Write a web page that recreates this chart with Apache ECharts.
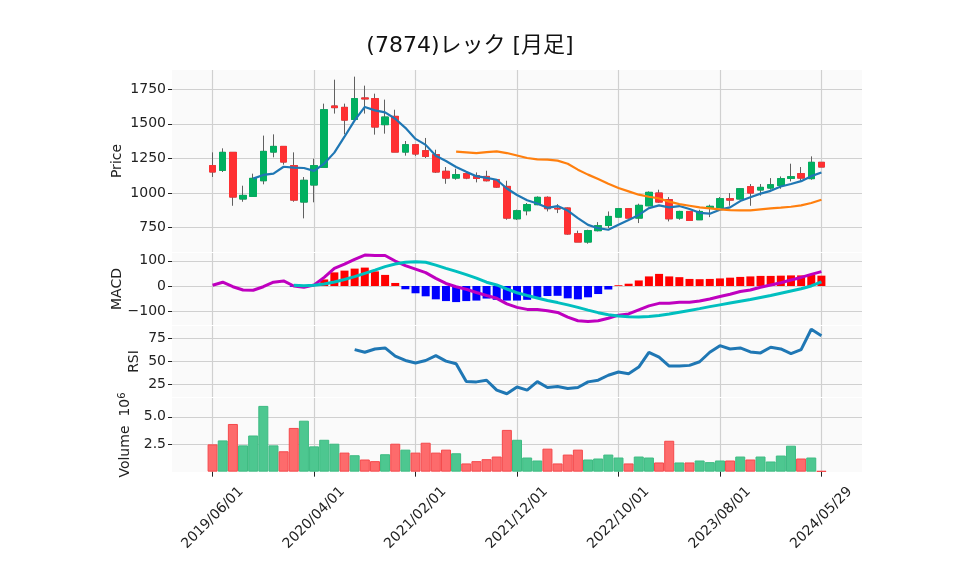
<!DOCTYPE html>
<html><head><meta charset="utf-8">
<script src="https://cdn.jsdelivr.net/npm/echarts@6/dist/echarts.min.js"></script>
<style>html,body{margin:0;padding:0;background:#fff}#c{width:958px;height:575px}</style>
</head><body><div id="c"></div>
<script>
const titleText = '(7874)レック [月足]';
const dates = ['2019/06/01','2019/07/01','2019/08/01','2019/09/01','2019/10/01','2019/11/01','2019/12/01',
'2020/01/01','2020/02/01','2020/03/01','2020/04/01','2020/05/01','2020/06/01','2020/07/01','2020/08/01','2020/09/01','2020/10/01','2020/11/01','2020/12/01',
'2021/01/01','2021/02/01','2021/03/01','2021/04/01','2021/05/01','2021/06/01','2021/07/01','2021/08/01','2021/09/01','2021/10/01','2021/11/01','2021/12/01',
'2022/01/01','2022/02/01','2022/03/01','2022/04/01','2022/05/01','2022/06/01','2022/07/01','2022/08/01','2022/09/01','2022/10/01','2022/11/01','2022/12/01',
'2023/01/01','2023/02/01','2023/03/01','2023/04/01','2023/05/01','2023/06/01','2023/07/01','2023/08/01','2023/09/01','2023/10/01','2023/11/01','2023/12/01',
'2024/01/01','2024/02/01','2024/03/01','2024/04/01','2024/05/01','2024/05/29'];
const openP  = [1198,1164,1294,957,976,1089,1296,1337,1198,935,1058,1186,1629,1619,1532,1687,1682,1494,1554,1296,1349,1306,1277,1157,1108,1140,1125,1120,1096,1048,814,872,916,969,890,892,706,646,728,766,826,887,819,908,1000,952,819,867,807,892,896,959,957,1046,1022,1036,1055,1106,1140,1104,1222];
const highP  = [1294,1323,1294,1053,1140,1415,1424,1337,1294,1116,1248,1646,1819,1646,1841,1776,1718,1675,1602,1376,1352,1398,1313,1188,1176,1145,1149,1161,1100,1089,880,928,976,976,920,895,728,735,790,867,890,890,923,1012,1024,971,872,870,879,916,971,1000,1035,1065,1065,1108,1120,1212,1188,1265,1222];
const lowP   = [1116,1152,908,937,976,1063,1258,1205,937,817,933,1186,1574,1424,1528,1574,1422,1429,1296,1270,1268,1253,1145,1067,1096,1100,1077,1084,1038,807,805,839,912,867,855,699,646,634,723,747,822,815,783,904,930,795,807,798,805,826,892,908,955,908,981,1024,1031,1084,1084,1096,1188];
const closeP = [1152,1294,971,983,1106,1301,1337,1224,949,1092,1198,1602,1617,1527,1682,1680,1477,1549,1296,1349,1282,1265,1152,1108,1133,1108,1105,1089,1043,819,872,916,969,887,885,704,646,728,764,831,887,819,911,1005,935,814,867,802,867,904,959,949,1031,1000,1041,1060,1104,1118,1108,1222,1188];
const ma5 = [null,null,null,null,1104,1131,1140,1190,1183,1181,1160,1213,1292,1407,1525,1622,1597,1583,1537,1471,1391,1348,1269,1231,1188,1153,1122,1109,1096,1033,986,948,924,893,906,873,819,770,746,735,771,806,842,891,911,897,906,885,857,851,880,896,942,969,996,1016,1047,1065,1086,1122,1148];
const ma25 = [null,null,null,null,null,null,null,null,null,null,null,null,null,null,null,null,null,null,null,null,null,null,null,null,
1299,1294,1289,1296,1301,1289,1271,1253,1243,1241,1234,1212,1169,1133,1101,1067,1036,1012,988,973,961,938,920,908,896,889,882,877,875,875,882,889,894,901,911,928,952];
const macdLine = [3,15,-3,-16,-17,-3,15,20,0,-5,4,34,70,87,106,123,121,121,99,81,67,53,30,10,-3,-13,-26,-38,-49,-71,-85,-93,-93,-98,-105,-124,-138,-141,-138,-128,-116,-111,-95,-79,-69,-69,-65,-65,-60,-52,-42,-33,-22,-16,-5,4,13,24,34,46,57];
const signalLine = [null,null,null,null,null,null,null,null,3,1,3,8,16,26,37,50,63,77,87,94,96,94,83,70,58,45,31,15,4,-12,-27,-38,-48,-58,-66,-75,-85,-96,-106,-114,-119,-122,-123,-121,-117,-111,-104,-97,-90,-82,-75,-68,-61,-54,-46,-38,-29,-20,-11,0,16];
const histBar = [null,null,null,null,null,null,null,null,-3,-6,1,26,54,61,69,73,58,44,12,-13,-29,-41,-53,-60,-64,-60,-58,-50,-55,-58,-58,-55,-45,-40,-39,-49,-53,-45,-32,-14,3,9,22,38,48,38,35,28,27,28,30,33,36,38,40,40,41,42,42,44,41];
const rsiLine = [null,null,null,null,null,null,null,null,null,null,null,null,null,null,
62.5,59.6,63.2,64.3,55.4,50.7,47.9,50.7,56,50,47.1,27.8,27.5,29.3,18.6,14.6,22,18.6,27.8,21.4,22.5,20.3,21.4,27.5,29.3,34.7,38.2,36.4,43.6,59.6,54.3,44.6,44.6,45.4,49.3,59.6,66.8,63.2,64.3,60,58.9,65,63.2,58.2,62.5,84.6,77.5];
const volumeM = [2.49,2.85,4.35,2.40,3.30,6.0,2.40,1.86,3.99,4.65,2.31,2.91,2.55,1.74,1.50,1.11,0.96,1.59,2.55,2.01,1.74,2.64,1.74,2.01,1.68,0.75,0.96,1.14,1.38,3.81,2.91,1.29,1.02,2.10,0.75,1.56,2.01,1.11,1.20,1.56,1.29,0.75,1.38,1.29,0.84,2.82,0.84,0.84,1.02,0.87,1.02,1.02,1.38,1.11,1.38,0.93,1.47,2.37,1.20,1.29,0.06];
const priceTicks = [750,1000,1250,1500,1750];
const macdTicks = [-100,0,100];
const rsiTicks = [25,50,75];
const volTicks = [2.5,5.0];
const labelEvery = 10;

const PAD = 4;
const n = dates.length;
const padL = Array(PAD).fill('-');
const pad = a => padL.concat(a.map(v => (v === null ? '-' : v)), padL);
const cats = Array(PAD).fill('').concat(dates, Array(PAD).fill(''));
const isTick = (idx) => { const k = idx - PAD; return k >= 0 && k < n && k % labelEvery === 0; };

const FONT = "'DejaVu Sans', 'Noto Sans CJK JP', sans-serif";
const GRID_C = '#d0d0d0';
const TXT = '#222';
const grids = [
  {left:172, width:690, top:70, height:182},
  {left:172, width:690, top:253, height:72},
  {left:172, width:690, top:326, height:71},
  {left:172, width:690, top:398, height:74}
];
grids.forEach(g => { g.show = true; g.backgroundColor = '#fafafa'; g.borderWidth = 0; });

function xAx(gi, bottom) {
  return {
    type:'category', gridIndex:gi, data:cats, boundaryGap:false,
    axisLine:{show:false},
    axisTick:{show:bottom, interval:isTick, length:5, lineStyle:{color:TXT, width:1}},
    axisLabel:{show:bottom, interval:isTick, rotate:45, align:'center', verticalAlign:'middle',
      fontSize:14, color:TXT, fontFamily:FONT, margin:46},
    splitLine:{show:true, interval:isTick, lineStyle:{color:GRID_C, width:1.2}}
  };
}
function yAx(gi, min, max, ticks, name, gap, fmt, rich) {
  return {
    type:'value', gridIndex:gi, min:min, max:max, scale:true,
    name:name, nameLocation:'middle', nameGap:gap, nameRotate:90, nameMoveOverlap:false,
    nameTextStyle:Object.assign({fontSize:14, color:TXT, fontFamily:FONT}, rich ? {rich:rich} : {}),
    axisLine:{show:false},
    axisTick:{show:true, length:4, customValues:ticks, lineStyle:{color:TXT}},
    axisLabel:{customValues:ticks, fontSize:14, color:TXT, fontFamily:FONT, margin:6, formatter:fmt},
    splitLine:{show:true, lineStyle:{color:GRID_C, width:1.2}}
  };
}
const minus = v => String(v).replace('-', '\u2212');
const volRich = {
  a:{fontSize:14, color:TXT, fontFamily:FONT},
  b:{fontSize:10, color:TXT, fontFamily:FONT, verticalAlign:'top', lineHeight:16}
};

const wickData = pad(openP.map((o,i) => [o, closeP[i], lowP[i], highP[i]]));
const bodyData = pad(openP.map((o,i) => [o, closeP[i], Math.min(o, closeP[i]), Math.max(o, closeP[i])]));
const volData = pad(volumeM.map((v,i) => {
  const up = i > 0 && closeP[i] >= closeP[i-1];
  return {value:v, itemStyle:{color: up ? '#4dc790' : '#fd6b6c', borderColor: up ? '#3dbb82' : '#f5484b', borderWidth:1}};
}));
const histData = pad(histBar.map(v => v === null ? null : {value:v, itemStyle:{color: v >= 0 ? '#ff0000' : '#0000ff'}}));

const option = {
  animation:false,
  backgroundColor:'#ffffff',
  graphic:[{type:'text', x:470, y:46, style:{text:titleText, textAlign:'center', textVerticalAlign:'middle',
    fontSize:22, fontFamily:FONT, fill:'#111'}}],
  grid:grids,
  xAxis:[xAx(0,false), xAx(1,false), xAx(2,false), xAx(3,true)],
  yAxis:[
    yAx(0, 574, 1889, priceTicks, 'Price', 48, v => String(v)),
    yAx(1, -155, 131, macdTicks, 'MACD', 48, minus),
    yAx(2, 11.1, 88.1, rsiTicks, 'RSI', 31, v => String(v)),
    yAx(3, -0.03, 6.72, volTicks, '{a|Volume  10}{b|6}', 39, v => v.toFixed(1), volRich)
  ],
  series:[
    {type:'candlestick', xAxisIndex:0, yAxisIndex:0, data:wickData, barWidth:7,
      itemStyle:{color:'#606060', color0:'#606060', borderColor:'#606060', borderColor0:'#606060', borderWidth:1}, z:2},
    {type:'candlestick', xAxisIndex:0, yAxisIndex:0, data:bodyData, barWidth:7,
      itemStyle:{color:'#00b060', color0:'#fe3032', borderColor:'#00b060', borderColor0:'#fe3032', borderWidth:1}, z:3},
    {type:'line', xAxisIndex:0, yAxisIndex:0, data:pad(ma5), symbol:'none', lineStyle:{color:'#1f77b4', width:2.2}, z:4},
    {type:'line', xAxisIndex:0, yAxisIndex:0, data:pad(ma25), symbol:'none', lineStyle:{color:'#ff7f0e', width:2.2}, z:4},
    {type:'bar', xAxisIndex:1, yAxisIndex:1, data:histData, barWidth:8, z:2},
    {type:'line', xAxisIndex:1, yAxisIndex:1, data:pad(macdLine), symbol:'none', lineStyle:{color:'#bf00bf', width:3}, z:4},
    {type:'line', xAxisIndex:1, yAxisIndex:1, data:pad(signalLine), symbol:'none', lineStyle:{color:'#00bfbf', width:3}, z:4},
    {type:'line', xAxisIndex:2, yAxisIndex:2, data:pad(rsiLine), symbol:'none', lineStyle:{color:'#1f77b4', width:3}, z:4},
    {type:'bar', xAxisIndex:3, yAxisIndex:3, data:volData, barWidth:10, z:2}
  ]
};
const chart = echarts.init(document.getElementById('c'), null, {renderer:'canvas'});
chart.setOption(option);
</script>
</body></html>
